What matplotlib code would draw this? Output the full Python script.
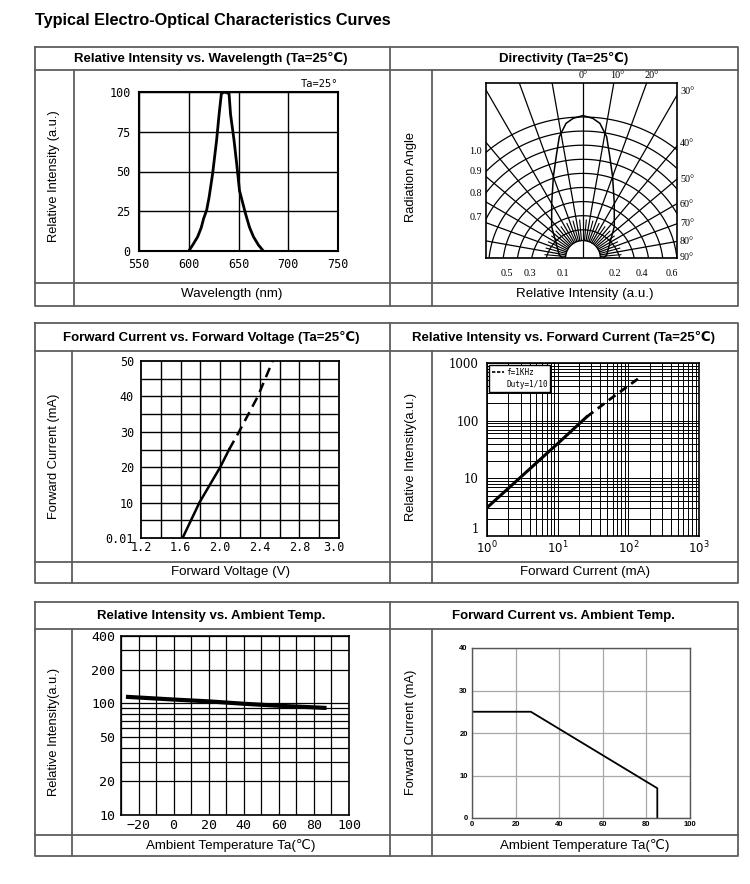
import matplotlib
matplotlib.use('Agg')
import matplotlib.pyplot as plt
from matplotlib.lines import Line2D
from matplotlib.ticker import FixedLocator, NullFormatter
import numpy as np

# ---------------- data ----------------
# Panel 1: relative intensity vs wavelength
wl_nm = [600, 604, 609, 612.5, 615, 618, 620.5, 624, 628, 630.5, 632.8, 636,
         640.5, 642, 645.5, 648.5, 651, 653.5, 657, 661, 665, 670, 675]
wl_int = [0, 3.8, 9, 14.6, 20.5, 25.7, 34, 48.7, 69.7, 86, 99, 100,
          99, 86, 69.7, 53, 38, 32, 23.6, 15, 9, 3.8, 0]

# Panel 2: directivity (half lobe, mirrored)
lobe_x = [0.0, 0.07, 0.12, 0.168, 0.19, 0.21, 0.222, 0.222, 0.168, 0.144]
lobe_y = [1.01, 0.99, 0.955, 0.86, 0.72, 0.577, 0.388, 0.222, 0.02, 0.0]
dir_levels = [1.0, 0.9, 0.8, 0.7, 0.6, 0.5, 0.4, 0.3, 0.2]
dir_angles = list(range(-90, 91, 10))
dir_left_labels = ['1.0', '0.9', '0.8', '0.7']
dir_right_labels = ['30°', '40°', '50°', '60°', '70°', '80°', '90°']
dir_top_labels = ['0°', '10°', '20°']
dir_bottom_labels = ['0.5', '0.3', '0.1', '0.2', '0.4', '0.6']

# Panel 3: forward current vs forward voltage
vf_solid = [1.62, 1.79, 2.0, 2.09]
if_solid = [0, 10, 20, 25]
vf_dash = [2.09, 2.19, 2.38, 2.53]
if_dash = [25, 30, 40, 50]
vf_ticks = [1.2, 1.6, 2.0, 2.4, 2.8, 3.15]
vf_ticklabels = ['1.2', '1.6', '2.0', '2.4', '2.8', '3.0']
ifv_ticks = [0, 10, 20, 30, 40, 50]
ifv_ticklabels = ['0.01', '10', '20', '30', '40', '50']

# Panel 4: relative intensity vs forward current (log-log)
ifc_solid = [1, 10, 25.7]
riv_solid = [3.1, 40, 116]
ifc_dash = [25.7, 60, 138]
riv_dash = [116, 255, 536]

# Panel 5: relative intensity vs ambient temperature
ta5 = [-26, 0, 20, 40, 60, 86]
ri5 = [114, 108, 104, 99, 95, 91]
ri5_ticks = [10, 20, 50, 100, 200, 400]
ri5_grid = [20, 30, 40, 50, 60, 70, 80, 90, 100, 200, 300]

# Panel 6: forward current derating
ta6 = [0, 27, 85, 85]
if6 = [25, 25, 7, 0]

# ---------------- layout helpers ----------------
W, H = 750, 884
fig = plt.figure(figsize=(7.5, 8.84), dpi=100)
fig.patch.set_facecolor('white')

HEAD = ['Liberation Sans', 'DejaVu Sans']
MONO = ['DejaVu Sans Mono']
TABLE_C = '#5e5e5e'


def px_ax(l, t, r, b):
    return fig.add_axes([l / W, 1 - b / H, (r - l) / W, (b - t) / H])


def fline(xs, ys, **kw):
    fig.add_artist(Line2D([x / W for x in xs], [1 - y / H for y in ys],
                          transform=fig.transFigure, **kw))


def ftext(x, y, s, **kw):
    fig.text(x / W, 1 - y / H, s, **kw)


# ---------------- title ----------------
ftext(35, 20, 'Typical Electro-Optical Characteristics Curves', family=HEAD,
      fontweight='bold', fontsize=11.7, ha='left', va='center')

# ---------------- table frames ----------------
rows = [(47, 70, 283, 306, 74), (323, 351, 562, 583, 72), (602, 629, 835, 856, 72)]
for top, hdr, ftr, bot, lcol in rows:
    kw = dict(color=TABLE_C, lw=1.3)
    fline([35, 738, 738, 35, 35], [top, top, bot, bot, top], **kw)
    fline([35, 738], [hdr, hdr], **kw)
    fline([35, 738], [ftr, ftr], **kw)
    fline([390, 390], [top, bot], **kw)
    fline([lcol, lcol], [hdr, bot], **kw)
    fline([432, 432], [hdr, bot], **kw)

headers = [
    ('Relative Intensity vs. Wavelength (Ta=25℃)', 'Directivity (Ta=25℃)'),
    ('Forward Current vs. Forward Voltage (Ta=25℃)', 'Relative Intensity vs. Forward Current (Ta=25℃)'),
    ('Relative Intensity vs. Ambient Temp.', 'Forward Current vs. Ambient Temp.'),
]
footers = [
    ('Wavelength (nm)', 'Relative Intensity (a.u.)'),
    ('Forward Voltage (V)', 'Forward Current (mA)'),
    ('Ambient Temperature Ta(℃)', 'Ambient Temperature Ta(℃)'),
]
ylabels = [
    ('Relative Intensity (a.u.)', 'Radiation Angle'),
    ('Forward Current (mA)', 'Relative Intensity(a.u.)'),
    ('Relative Intensity(a.u.)', 'Forward Current (mA)'),
]
for (top, hdr, ftr, bot, lcol), hd, ft, yl in zip(rows, headers, footers, ylabels):
    hy = (top + hdr) / 2
    ftext(211, hy, hd[0], family=HEAD + ['Noto Sans CJK SC'], fontweight='bold',
          fontsize=9.5, ha='center', va='center')
    ftext(564, hy, hd[1], family=HEAD + ['Noto Sans CJK SC'], fontweight='bold',
          fontsize=9.5, ha='center', va='center')
    fy = (ftr + bot) / 2
    ftext((lcol + 390) / 2, fy, ft[0], family=HEAD + ['Noto Sans CJK SC'],
          fontsize=9.6, ha='center', va='center')
    ftext((432 + 738) / 2, fy, ft[1], family=HEAD + ['Noto Sans CJK SC'],
          fontsize=9.6, ha='center', va='center')
    my = (hdr + ftr) / 2
    ftext((35 + lcol) / 2, my, yl[0], family=HEAD, fontsize=9.3, rotation=90,
          ha='center', va='center')
    ftext(411, my, yl[1], family=HEAD, fontsize=9.3, rotation=90,
          ha='center', va='center')


def style_ticks(ax, size, family=MONO, weight='normal', xpad=3, ypad=4):
    ax.tick_params(axis='both', which='both', length=0)
    ax.tick_params(axis='x', pad=xpad)
    ax.tick_params(axis='y', pad=ypad)
    for lab in ax.get_xticklabels() + ax.get_yticklabels():
        lab.set_family(family)
        lab.set_fontsize(size)
        lab.set_fontweight(weight)


# ---------------- panel 1 ----------------
ax1 = px_ax(139, 92, 338, 251)
ax1.set_xlim(550, 750)
ax1.set_ylim(0, 100)
ax1.set_xticks([550, 600, 650, 700, 750])
ax1.set_yticks([0, 25, 50, 75, 100])
ax1.grid(True, color='black', lw=1.0)
for s in ax1.spines.values():
    s.set_linewidth(1.5)
ax1.plot(wl_nm, wl_int, color='black', lw=2.0)
style_ticks(ax1, 8.5, xpad=5, ypad=6)
ftext(338, 84, 'Ta=25°', family=MONO, fontsize=7.5, ha='right', va='center')

# ---------------- panel 2 (directivity) ----------------
ax2 = px_ax(486, 83, 677, 258)
ax2.set_xlim(-0.688, 0.667)
ax2.set_ylim(0, 1.241)
ax2.set_xticks([])
ax2.set_yticks([])
for s in ax2.spines.values():
    s.set_linewidth(1.2)
r0 = 0.124
for a in dir_angles:
    t = np.radians(a)
    start = 0.0 if a == 0 else r0
    ax2.plot([start * np.sin(t), 2 * np.sin(t)], [start * np.cos(t), 2 * np.cos(t)],
             color='black', lw=0.9)
for a in range(-85, 90, 10):
    t = np.radians(a)
    ax2.plot([r0 * np.sin(t), 0.27 * np.sin(t)], [r0 * np.cos(t), 0.27 * np.cos(t)],
             color='black', lw=0.8)
th = np.linspace(0, np.pi, 400)
c_off = 0.07
for h in dir_levels:
    R = h + c_off
    ax2.plot(R * np.cos(th), -c_off + R * np.sin(th), color='black', lw=0.9)
ax2.plot(r0 * np.cos(th), r0 * np.sin(th), color='black', lw=0.9)
lx = [-v for v in lobe_x[::-1]] + lobe_x[1:]
ly = lobe_y[::-1] + lobe_y[1:]
ax2.plot(lx, ly, color='black', lw=1.1)

small = dict(family=['Liberation Serif', 'DejaVu Serif'], fontsize=7.3, va='center')
for lab, y in zip(dir_left_labels, [151, 171, 194, 217]):
    ftext(482, y, lab, ha='right', **small)
for lab, y in zip(dir_right_labels, [92, 143, 179, 204, 224, 242, 257]):
    ftext(680, y, lab, ha='left', **small)
for lab, x in zip(dir_top_labels, [583, 617, 652]):
    ftext(x, 75, lab, ha='center', **small)
for lab, x in zip(dir_bottom_labels, [507, 530, 563, 615, 642, 672]):
    ftext(x, 273, lab, ha='center', **small)

# ---------------- panel 3 ----------------
ax3 = px_ax(141, 361, 339, 538)
ax3.set_xlim(1.2, 3.2)
ax3.set_ylim(0, 50)
ax3.set_xticks(vf_ticks)
ax3.set_xticklabels(vf_ticklabels)
ax3.set_yticks(ifv_ticks)
ax3.set_yticklabels(ifv_ticklabels)
ax3.xaxis.set_minor_locator(FixedLocator(np.arange(1.2, 3.21, 0.2)))
ax3.yaxis.set_minor_locator(FixedLocator(np.arange(0, 51, 5)))
ax3.grid(False)
for v in np.arange(1.4, 3.19, 0.2):
    ax3.axvline(v, color='black', lw=1.0)
for v in np.arange(5, 50, 5):
    ax3.axhline(v, color='black', lw=1.0)
for s in ax3.spines.values():
    s.set_linewidth(1.3)
ax3.plot(vf_solid, if_solid, color='black', lw=1.8)
ax3.plot(vf_dash, if_dash, color='black', lw=1.8, ls=(0, (4, 2.5)))
style_ticks(ax3, 8.5, xpad=2, ypad=5)

# ---------------- panel 4 ----------------
ax4 = px_ax(487, 363, 699, 536)
ax4.set_xscale('log')
ax4.set_yscale('log')
ax4.set_xlim(1, 1000)
ax4.set_ylim(1, 1000)
ax4.set_xticks([1, 10, 100, 1000])
ax4.set_xticklabels([r'$10^0$', r'$10^1$', r'$10^2$', r'$10^3$'])
ax4.set_yticks([1, 10, 100, 1000])
ax4.set_yticklabels(['1', '10', '100', '1000'])
ax4.xaxis.set_minor_formatter(NullFormatter())
ax4.yaxis.set_minor_formatter(NullFormatter())
ax4.grid(True, which='both', color='black', lw=0.7)
for s in ax4.spines.values():
    s.set_linewidth(1.2)
ax4.plot(ifc_solid, riv_solid, color='black', lw=2.2)
ax4.plot(ifc_dash, riv_dash, color='black', lw=2.0, ls=(0, (3, 2)))
h1 = Line2D([], [], color='black', lw=1.2, ls=(0, (2, 1)))
h2 = Line2D([], [], color='none')
leg = ax4.legend([h1, h2], ['f=1KHz', 'Duty=1/10'], loc='upper left',
                 borderaxespad=0.25, fancybox=False, framealpha=1, edgecolor='black',
                 prop={'family': 'DejaVu Sans Mono', 'size': 5.5}, handlelength=1.6,
                 handletextpad=0.3, borderpad=0.35, labelspacing=0.5)
leg.get_frame().set_linewidth(1.0)
style_ticks(ax4, 8.5, family=['DejaVu Serif'], xpad=3, ypad=6)
ax4.get_yticklabels()[0].set_verticalalignment('bottom')

# ---------------- panel 5 ----------------
ax5 = px_ax(121, 636, 349, 815)
ax5.set_yscale('log')
ax5.set_xlim(-30, 100)
ax5.set_ylim(10, 400)
ax5.set_xticks(list(range(-20, 101, 20)))
ax5.xaxis.set_minor_locator(FixedLocator(list(range(-30, 101, 10))))
ax5.set_yticks(ri5_ticks)
ax5.set_yticklabels([str(v) for v in ri5_ticks])
ax5.yaxis.set_minor_locator(FixedLocator(ri5_grid))
ax5.yaxis.set_minor_formatter(NullFormatter())
ax5.grid(True, which='both', color='black', lw=0.9)
for s in ax5.spines.values():
    s.set_linewidth(1.2)
ax5.plot(ta5, ri5, color='black', lw=3.0)
style_ticks(ax5, 9.5, xpad=3, ypad=4)

# ---------------- panel 6 ----------------
ax6 = px_ax(472, 648, 690, 818)
ax6.set_xlim(0, 100)
ax6.set_ylim(0, 40)
ax6.set_xticks([0, 20, 40, 60, 80, 100])
ax6.set_yticks([0, 10, 20, 30, 40])
ax6.grid(True, color='#a8a8a8', lw=0.9)
for s in ax6.spines.values():
    s.set_color('#555555')
    s.set_linewidth(1.0)
ax6.plot(ta6, if6, color='black', lw=1.3)
style_ticks(ax6, 5.5, family=HEAD, weight='bold', xpad=2, ypad=3)

fig.savefig('out.png', dpi=100)
